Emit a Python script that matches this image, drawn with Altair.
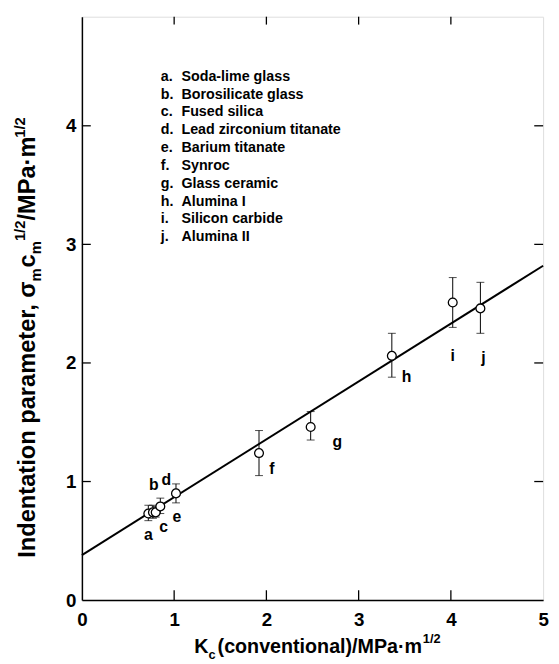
import altair as alt
import pandas as pd

# ---------------- data ----------------
letters = ["a", "b", "c", "d", "e", "f", "g", "h", "i", "j"]
materials = ["Soda-lime glass", "Borosilicate glass", "Fused silica",
             "Lead zirconium titanate", "Barium titanate", "Synroc",
             "Glass ceramic", "Alumina I", "Silicon carbide", "Alumina II"]
kc = [0.72, 0.77, 0.80, 0.85, 1.02, 1.92, 2.48, 3.36, 4.02, 4.32]
ip = [0.73, 0.74, 0.74, 0.79, 0.90, 1.24, 1.46, 2.06, 2.51, 2.46]
ip_lo = [0.67, 0.69, 0.70, 0.73, 0.82, 1.05, 1.35, 1.88, 2.30, 2.25]
ip_hi = [0.80, 0.80, 0.79, 0.86, 0.98, 1.43, 1.59, 2.25, 2.72, 2.68]
fit_kc = [0.0, 5.0]
fit_ip = [0.38, 2.82]
x_ticks = [0, 1, 2, 3, 4, 5]
y_ticks = [0, 1, 2, 3, 4]
inner_x_ticks = [1, 2, 3, 4]
inner_y_ticks = [1, 2, 3, 4]

# ---------------- style ----------------
W, H = 468, 592
XMAX, YMAX = 5.0, 4.92
FONT = "Liberation Sans"
label_off = {  # pixel offsets of point letters
    "a": (0, 22), "b": (1, -28), "c": (8, 15), "d": (6, -27), "e": (1, 24),
    "f": (13, 16), "g": (27, 15), "h": (15, 22), "i": (0, 54), "j": (3, 50),
}

xs = alt.Scale(domain=[0, XMAX], nice=False, zero=False)
ys = alt.Scale(domain=[0, YMAX], nice=False, zero=False)

pts = pd.DataFrame({"letter": letters, "mat": materials, "kc": kc, "ip": ip,
                    "lo": ip_lo, "hi": ip_hi})
fit = pd.DataFrame({"kc": fit_kc, "ip": fit_ip})

base_x = alt.X("kc:Q", scale=xs,
               axis=alt.Axis(values=x_ticks, format="d", ticks=False, grid=False, title=None,
                             labelFont=FONT, labelFontSize=19, labelFontWeight="bold",
                             labelColor="black", labelPadding=11, domainColor="black",
                             domainWidth=1.5, labelFlush=False))
base_y = alt.Y("ip:Q", scale=ys,
               axis=alt.Axis(values=y_ticks, format="d", ticks=False, grid=False, title=None,
                             labelFont=FONT, labelFontSize=19, labelFontWeight="bold",
                             labelColor="black", labelPadding=6, domainColor="black",
                             domainWidth=1.5, labelFlush=False))

line = alt.Chart(fit).mark_line(color="black", strokeWidth=2).encode(x=base_x, y=base_y)

bars = alt.Chart(pts).mark_rule(color="black", strokeWidth=1).encode(
    x=alt.X("kc:Q", scale=xs), y=alt.Y("lo:Q", scale=ys), y2="hi:Q")

caps_df = pd.concat([pts.assign(v=pts["lo"]), pts.assign(v=pts["hi"])])
caps = alt.Chart(caps_df).mark_tick(color="black", orient="horizontal", size=8,
                                    thickness=1).encode(
    x=alt.X("kc:Q", scale=xs), y=alt.Y("v:Q", scale=ys))

points = alt.Chart(pts).mark_point(shape="circle", filled=True, fill="white",
                                   stroke="black", strokeWidth=1.3, size=80,
                                   opacity=1).encode(
    x=alt.X("kc:Q", scale=xs), y=alt.Y("ip:Q", scale=ys))

labels = []
for L in letters:
    dx, dy = label_off[L]
    labels.append(
        alt.Chart(pts).transform_filter(alt.datum.letter == L)
        .mark_text(font=FONT, fontSize=16, fontWeight="bold", color="black",
                   dx=dx, dy=dy, baseline="middle")
        .encode(x=alt.X("kc:Q", scale=xs), y=alt.Y("ip:Q", scale=ys), text="letter:N"))

# inward ticks on all four sides
tx = pd.DataFrame({"t": inner_x_ticks})
ty = pd.DataFrame({"t": inner_y_ticks})
tick_b = alt.Chart(tx).mark_rule(color="black", strokeWidth=1.3).encode(
    x=alt.X("t:Q", scale=xs), y=alt.value(H), y2=alt.value(H - 10))
tick_t = alt.Chart(tx).mark_rule(color="black", strokeWidth=1.3).encode(
    x=alt.X("t:Q", scale=xs), y=alt.value(0), y2=alt.value(8))
tick_l = alt.Chart(ty).mark_rule(color="black", strokeWidth=1.3).encode(
    y=alt.Y("t:Q", scale=ys), x=alt.value(0), x2=alt.value(9))
tick_r = alt.Chart(ty).mark_rule(color="black", strokeWidth=1.3).encode(
    y=alt.Y("t:Q", scale=ys), x=alt.value(W), x2=alt.value(W - 9))

# legend list of materials
leg_df = pd.DataFrame({"letter": [l + "." for l in letters], "mat": materials,
                       "idx": list(range(len(letters)))})
leg_l = alt.Chart(leg_df).transform_calculate(py="61 + datum.idx * 18.1").mark_text(
    font=FONT, fontSize=14.5, fontWeight="bold", color="black", align="left",
    baseline="middle").encode(x=alt.value(80), y=alt.Y("py:Q", scale=None), text="letter:N")
leg_m = alt.Chart(leg_df).transform_calculate(py="61 + datum.idx * 18.1").mark_text(
    font=FONT, fontSize=14.5, fontWeight="bold", color="black", align="left",
    baseline="middle").encode(x=alt.value(101), y=alt.Y("py:Q", scale=None), text="mat:N")

# ---------------- titles with sub/superscripts ----------------
AW = {" ": 278, "(": 333, ")": 333, ",": 278, "/": 278, "·": 278, "1": 556, "2": 556,
      "a": 556, "c": 556, "d": 611, "e": 556, "i": 278, "l": 278, "m": 889, "n": 611,
      "o": 611, "p": 611, "r": 389, "t": 333, "v": 556, "I": 278, "K": 722, "M": 833,
      "P": 667, "σ": 620}


def tw(s, fs):
    return sum(AW.get(ch, 556) for ch in s) * fs / 1000.0


one = pd.DataFrame({"k": [0]})


def piece_layers(pieces, start, base, fs, small, rotated):
    out = []
    pos = start
    for txt, kind, adj in pieces:
        size = fs if kind == "n" else small
        shift = 0 if kind == "n" else (6 if kind == "sub" else -10)
        pos = pos - adj if rotated else pos + adj
        if rotated:
            x, y, ang = base + shift, pos, 270
        else:
            x, y, ang = pos, base + shift, 0
        out.append(alt.Chart(one).mark_text(
            text=txt, font=FONT, fontSize=size, fontWeight="bold", color="black",
            align="left", baseline="alphabetic", angle=ang).encode(
            x=alt.value(x), y=alt.value(y)))
        if rotated:
            pos -= tw(txt, size)
        else:
            pos += tw(txt, size)
    return out


x_pieces = [("K", "n", 0), ("c", "sub", 0), (" (conventional)/MPa·m", "n", 2),
            ("1/2", "sup", -4)]
xfs, xsm = 20, 13
xlen = sum(tw(t, xfs if k == "n" else xsm) for t, k, _ in x_pieces)
x_title = piece_layers(x_pieces, 240 - xlen / 2, 646, xfs, xsm, False)

y_pieces = [("Indentation parameter, σ", "n", 0), ("m", "sub", 0), ("c", "n", 1),
            ("m", "sub", 0), ("1/2", "sup", 0), ("/MPa·m", "n", 0), ("1/2", "sup", 0)]
yfs, ysm = 24, 15
y_title = piece_layers(y_pieces, 549, -48, yfs, ysm, True)

chart = alt.layer(
    line, bars, caps, points, *labels, tick_b, tick_t, tick_l, tick_r,
    leg_l, leg_m, *x_title, *y_title
).properties(
    width=W, height=H,
    autosize=alt.AutoSizeParams(type="none"),
    padding={"left": 75, "top": 4, "right": 8, "bottom": 60},
).configure_view(stroke="black", strokeWidth=1.5).configure(background="white")

chart.save("out.html", embed_options={"renderer": "svg", "actions": False})
